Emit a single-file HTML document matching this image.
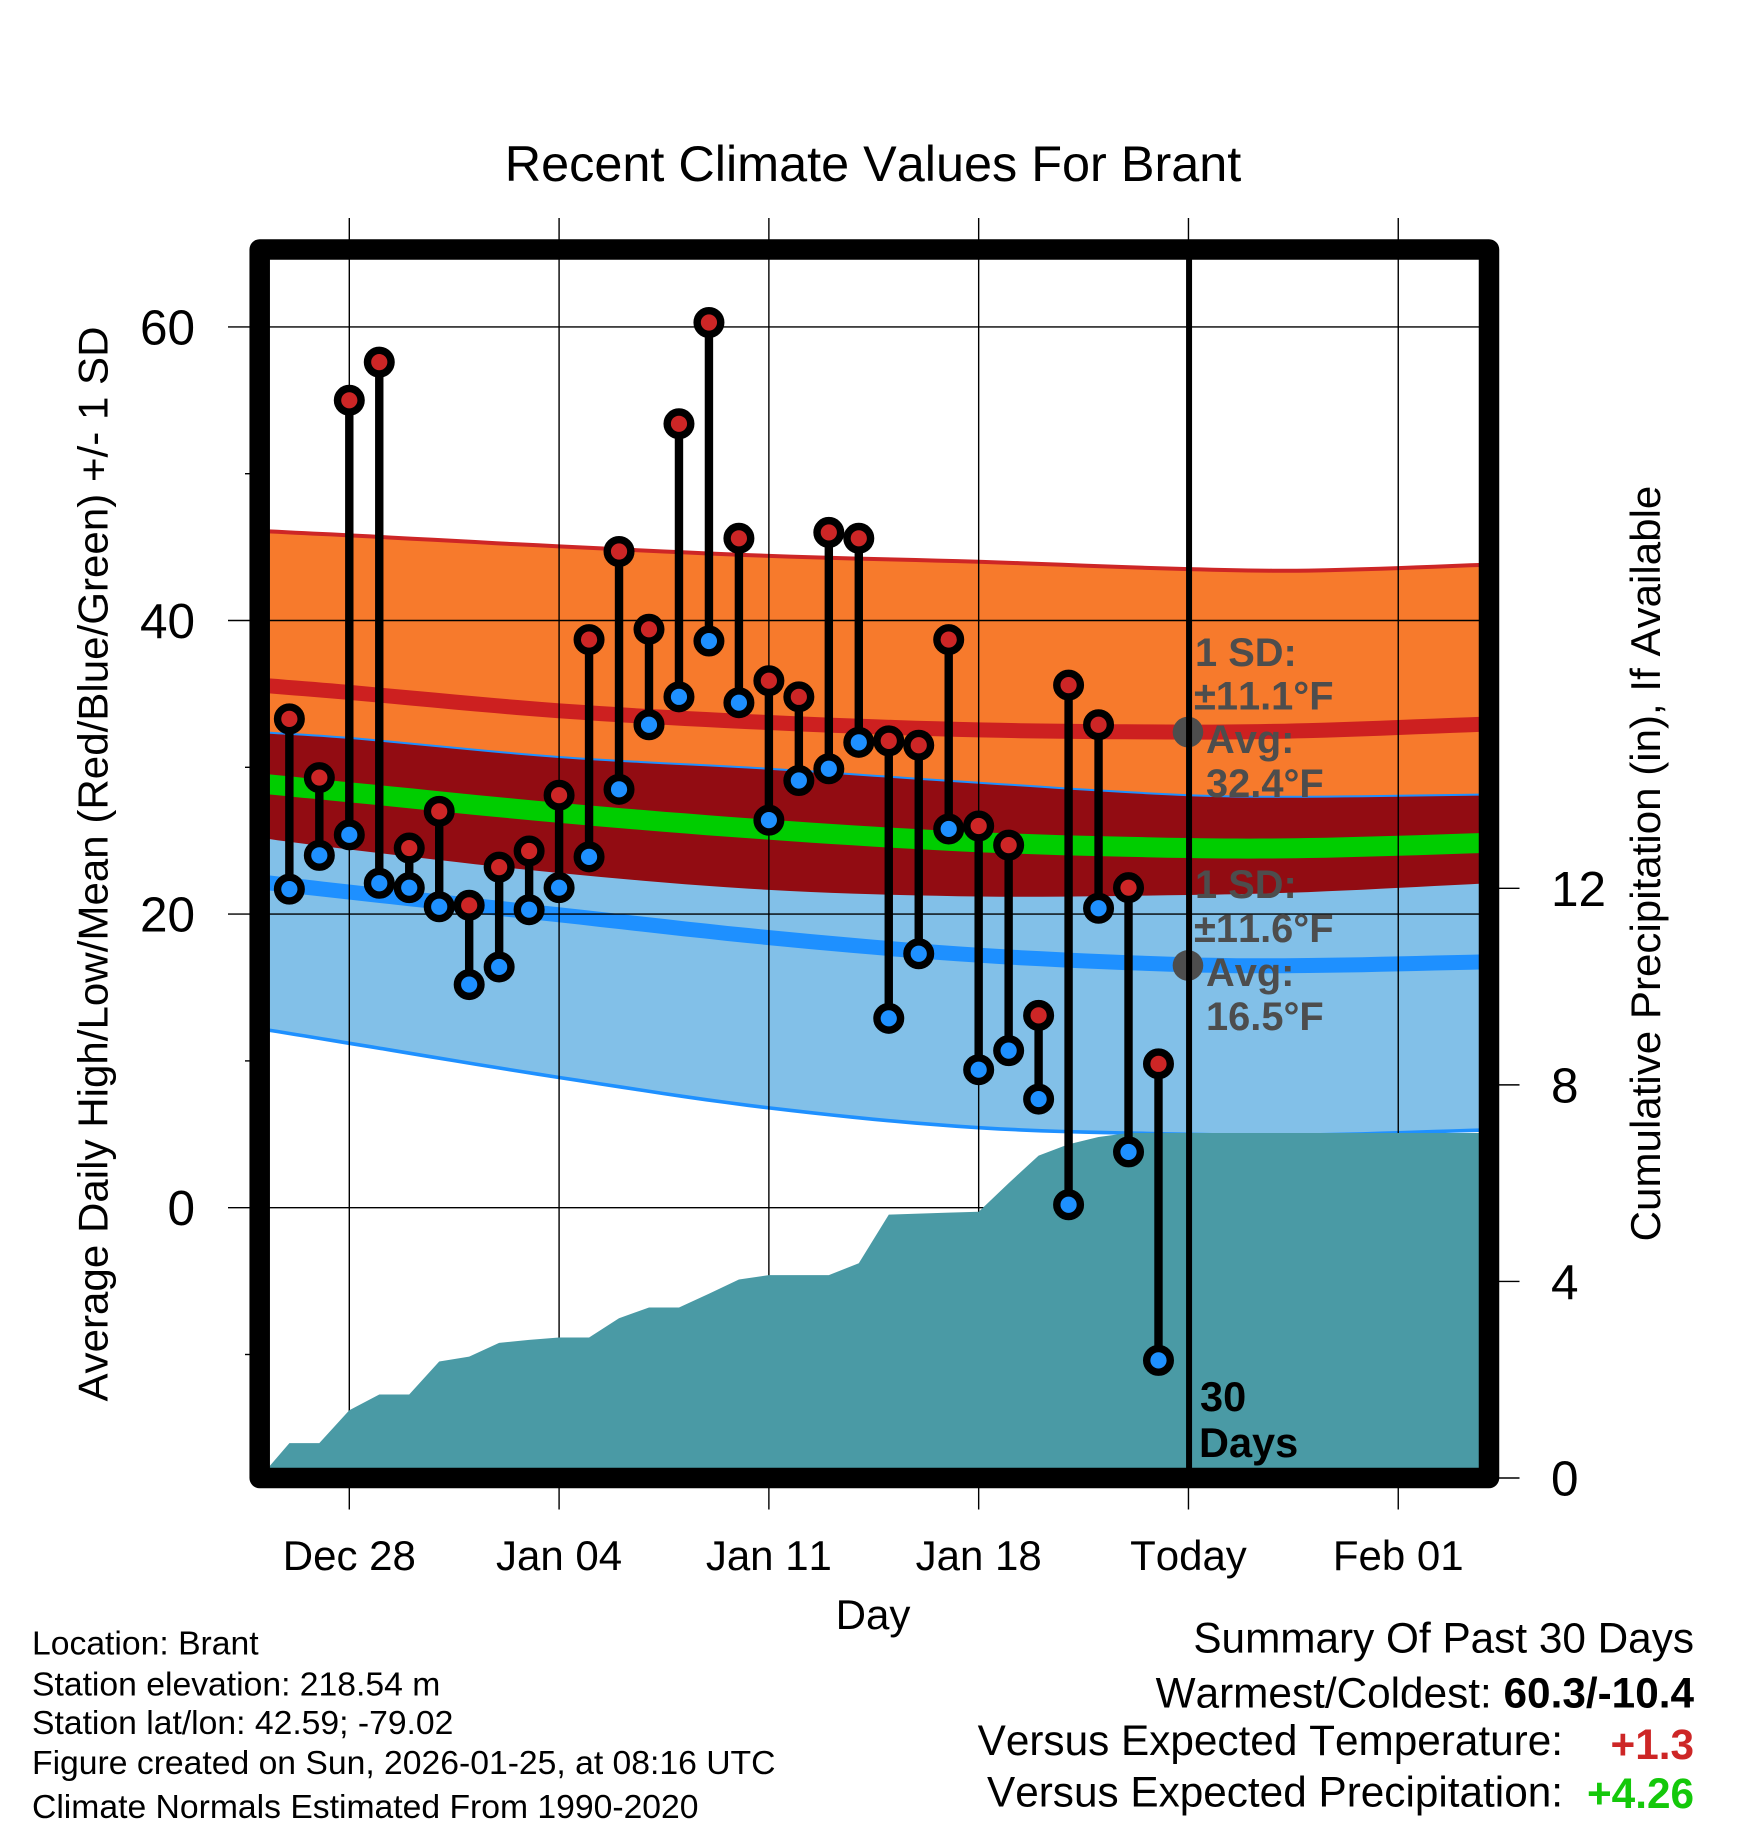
<!DOCTYPE html>
<html lang="en">
<head>
<meta charset="utf-8">
<title>Recent Climate Values For Brant</title>
<style>
html,body{margin:0;padding:0;background:#fff;}
svg{display:block;}
text{font-family:"Liberation Sans",Arial,sans-serif;fill:#000;font-kerning:none;}
.tick{font-size:49.5px;}
.xtick{font-size:42px;text-anchor:middle;}
.axt{font-size:42.1px;text-anchor:middle;}
.info{font-size:33.7px;}
.sum{font-size:42.3px;text-anchor:end;}
.ann{font-size:39.8px;font-weight:bold;fill:#4d4d4d;}
.days{font-size:41.5px;font-weight:bold;}
</style>
</head>
<body>
<svg id="chart" xmlns="http://www.w3.org/2000/svg" width="1748" height="1828" viewBox="0 0 1748 1828">
  <rect x="0" y="0" width="1748" height="1828" fill="#fff"/>
  <g id="bands"></g>
  <g id="grid"></g>
  <g id="precip"></g>
  <g id="today"></g>
  <g id="marks"></g>
  <rect x="259.7" y="249.5" width="1229.3" height="1228.5" fill="none" stroke="#000" stroke-width="20.5" stroke-linejoin="round"/>
  <g id="ticklabels"></g>

  <text x="873" y="181" font-size="50.4" text-anchor="middle">Recent Climate Values For Brant</text>
  <text class="axt" transform="translate(107.6 864) rotate(-90)">Average Daily High/Low/Mean (Red/Blue/Green) +/- 1 SD</text>
  <text class="axt" transform="translate(1660 863.5) rotate(-90)">Cumulative Precipitation (in), If Available</text>
  <text class="axt" x="873" y="1629">Day</text>

  <g>
    <text class="ann" x="1195" y="666">1 SD:</text>
    <text class="ann" x="1194" y="709.5">±11.1°F</text>
    <text class="ann" x="1206" y="753">Avg:</text>
    <text class="ann" x="1206" y="797">32.4°F</text>
  </g>
  <g>
    <text class="ann" x="1195" y="898">1 SD:</text>
    <text class="ann" x="1194" y="942">±11.6°F</text>
    <text class="ann" x="1206" y="986">Avg:</text>
    <text class="ann" x="1206" y="1030">16.5°F</text>
  </g>
  <text class="days" x="1200" y="1411">30</text>
  <text class="days" x="1199" y="1457">Days</text>

  <g>
    <text class="info" x="32" y="1654.5">Location: Brant</text>
    <text class="info" x="32" y="1695.5">Station elevation: 218.54 m</text>
    <text class="info" x="32" y="1734">Station lat/lon: 42.59; -79.02</text>
    <text class="info" x="32" y="1774">Figure created on Sun, 2026-01-25, at 08:16 UTC</text>
    <text class="info" x="32" y="1818">Climate Normals Estimated From 1990-2020</text>
  </g>
  <g>
    <text class="sum" x="1694" y="1652.5">Summary Of Past 30 Days</text>
    <text class="sum" x="1694" y="1707.5">Warmest/Coldest: <tspan font-weight="bold">60.3/-10.4</tspan></text>
    <text class="sum" x="1563" y="1755">Versus Expected Temperature:</text>
    <text class="sum" x="1694" y="1759" font-weight="bold" style="fill:#cd2626">+1.3</text>
    <text class="sum" x="1563" y="1806.5">Versus Expected Precipitation:</text>
    <text class="sum" x="1694" y="1808" font-weight="bold" style="fill:#14c80a">+4.26</text>
  </g>
</svg>
<script>
// Observed data: day offset from Dec 28
const days = [-2,-1,0,1,2,3,4,5,6,7,8,9,10,11,12,13,14,15,16,17,18,19,20,21,22,23,24,25,26,27];
const highs = [33.3,29.3,55.0,57.6,24.5,27.0,20.6,23.2,24.3,28.1,38.7,44.7,39.4,53.4,60.3,45.6,35.9,34.8,46.0,45.6,31.8,31.5,38.7,26.0,24.7,13.1,35.6,32.9,21.8,9.8];
const lows = [21.7,24.0,25.4,22.1,21.8,20.5,15.2,16.4,20.3,21.8,23.9,28.5,32.9,34.8,38.6,34.4,26.4,29.1,29.9,31.7,12.9,17.3,25.8,9.4,10.7,7.4,0.2,20.4,3.8,-10.4];

// Cumulative precipitation (in)
const precipDays = [-3,-2,-1,0,1,2,3,4,5,6,7,8,9,10,11,12,13,14,15,16,17,18,19,20,21,22,23,24,25,26,27,28,38];
const precipValues = [0,0.71,0.71,1.38,1.70,1.70,2.37,2.47,2.75,2.81,2.86,2.86,3.25,3.47,3.47,3.75,4.04,4.13,4.13,4.13,4.37,5.36,5.38,5.40,5.42,6.00,6.56,6.79,6.94,7.02,7.02,7.02,7.02];

// Climate normals
const normalDays = [-3,0,7,14,21,28,32,38];
const highUpper = [46.1,45.8,45.05,44.4,44.0,43.5,43.4,43.8];
const highMean = [35.6,35.1,33.85,33.05,32.55,32.4,32.5,32.95];
const highLower = [25.2,24.4,22.8,21.65,21.2,21.3,21.5,22.1];
const lowUpper = [32.4,32.0,30.7,29.9,28.95,28.1,28.0,28.15];
const lowMean = [22.2,21.5,19.95,18.4,17.2,16.55,16.5,16.75];
const lowLower = [12.2,11.2,8.87,6.8,5.45,5.0,4.95,5.3];
const midMean = [28.9,28.3,26.9,25.75,24.9,24.5,24.5,24.85];

// Ticks
const tempTicks = [60,40,20,0];
const tempMinorTicks = [50,30,10,-10];
const precipTicks = [0,4,8,12];
const dateTicks = [0,7,14,21,28,35];
const dateLabels = ['Dec 28','Jan 04','Jan 11','Jan 18','Today','Feb 01'];
const todayDay = 28;
const todayNormals = [32.4,16.5];

const NS = 'http://www.w3.org/2000/svg';
function xAt(d){return 349.3 + 29.97*d;}
function yAt(t){return 1207.7 - 14.68*t;}
function yPrecip(p){return 1478 - 49.14*p;}
function mk(tag,parent,attrs){
  const el=document.createElementNS(NS,tag);
  for(const k in attrs){el.setAttribute(k,attrs[k]);}
  parent.appendChild(el);
  return el;
}
// Smooth curve through the normal values (cubic Hermite in day space)
function linePts(xs,ys){
  const n=xs.length,slope=[],out=[];
  for(let i=0;i<n;i++){
    if(i===0){slope.push((ys[1]-ys[0])/(xs[1]-xs[0]));}
    else if(i===n-1){slope.push((ys[n-1]-ys[n-2])/(xs[n-1]-xs[n-2]));}
    else{slope.push((ys[i+1]-ys[i-1])/(xs[i+1]-xs[i-1]));}
  }
  for(let i=0;i<n-1;i++){
    const h=xs[i+1]-xs[i];
    for(let s=0;s<10;s++){
      const t=s/10,t2=t*t,t3=t2*t;
      const v=(2*t3-3*t2+1)*ys[i]+(t3-2*t2+t)*h*slope[i]+(-2*t3+3*t2)*ys[i+1]+(t3-t2)*h*slope[i+1];
      out.push(xAt(xs[i]+t*h).toFixed(1)+','+yAt(v).toFixed(1));
    }
  }
  out.push(xAt(xs[n-1]).toFixed(1)+','+yAt(ys[n-1]).toFixed(1));
  return out;
}
function bandPts(xs,top,bot){return linePts(xs,top).concat(linePts(xs,bot).reverse()).join(' ');}

const gBands=document.getElementById('bands');
let el;
el=mk('polygon',gBands,{points:bandPts(normalDays,highUpper,highLower),fill:'#f77a2c'});


el=mk('polygon',gBands,{points:bandPts(normalDays,lowUpper,lowLower),fill:'#82c0e8'});


el=mk('polygon',gBands,{points:bandPts(normalDays,lowUpper,highLower),fill:'#920c12'});


el=mk('polyline',gBands,{points:linePts(normalDays,highUpper).join(' '),fill:'none',stroke:'#cd2626','stroke-width':4});


el=mk('polyline',gBands,{points:linePts(normalDays,highMean).join(' '),fill:'none',stroke:'#cd2020','stroke-width':15});


el=mk('polyline',gBands,{points:linePts(normalDays,lowUpper).join(' '),fill:'none',stroke:'#1e90ff','stroke-width':2});


el=mk('polyline',gBands,{points:linePts(normalDays,midMean).join(' '),fill:'none',stroke:'#00cd00','stroke-width':20});


el=mk('polyline',gBands,{points:linePts(normalDays,lowMean).join(' '),fill:'none',stroke:'#1e90ff','stroke-width':15});


el=mk('polyline',gBands,{points:linePts(normalDays,lowLower).join(' '),fill:'none',stroke:'#1e90ff','stroke-width':3.6});



const gGrid=document.getElementById('grid');
tempTicks.forEach(t=>{
  const g=mk('line',gGrid,{x1:228,x2:1479,y1:yAt(t),y2:yAt(t),stroke:'#000','stroke-width':1.4});
  
  
});
tempMinorTicks.forEach(t=>{
  const g=mk('line',gGrid,{x1:245,x2:252,y1:yAt(t),y2:yAt(t),stroke:'#000','stroke-width':1.4});
  
  
});
dateTicks.forEach(d=>{
  const g=mk('line',gGrid,{x1:xAt(d),x2:xAt(d),y1:218,y2:1509.5,stroke:'#000','stroke-width':1.4});
  
  
});
precipTicks.forEach(p=>{
  const g=mk('line',gGrid,{x1:1498,x2:1519.5,y1:yPrecip(p),y2:yPrecip(p),stroke:'#000','stroke-width':1.4});
  
  
});

const gPrecip=document.getElementById('precip');
const precipPts=precipDays.map((d,i)=>xAt(d).toFixed(1)+','+yPrecip(precipValues[i]).toFixed(1));
precipPts.push(xAt(precipDays[precipDays.length-1]).toFixed(1)+','+yPrecip(0));
precipPts.push(xAt(precipDays[0]).toFixed(1)+','+yPrecip(0));
el=mk('polygon',gPrecip,{points:precipPts.join(' '),fill:'#4a9aa5'});



const gToday=document.getElementById('today');
todayNormals.forEach(t=>{
  const c=mk('circle',gToday,{cx:xAt(todayDay)-0.5,cy:yAt(t),r:15.3,fill:'#4d4d4d'});
  
  
});
el=mk('line',gToday,{x1:xAt(todayDay)+0.6,x2:xAt(todayDay)+0.6,y1:250,y2:1478,stroke:'#000','stroke-width':6});



const gMarks=document.getElementById('marks');
days.forEach((d,i)=>{
  const x=xAt(d);
  const stem=mk('line',gMarks,{x1:x,x2:x,y1:yAt(highs[i]),y2:yAt(lows[i]),stroke:'#000','stroke-width':8.4});
  
  
});
days.forEach((d,i)=>{
  const x=xAt(d);
  const lo=mk('circle',gMarks,{cx:x,cy:yAt(lows[i]),r:11.8,fill:'#1e90ff',stroke:'#000','stroke-width':7.4});
  
  
  const hi=mk('circle',gMarks,{cx:x,cy:yAt(highs[i]),r:11.8,fill:'#cd2626',stroke:'#000','stroke-width':7.4});
  
  
});

const gLabels=document.getElementById('ticklabels');
tempTicks.forEach(t=>{
  const l=mk('text',gLabels,{x:195,y:yAt(t)+17.5,'text-anchor':'end',class:'tick'});
  l.textContent=String(t);
  
  
});
precipTicks.forEach(p=>{
  const l=mk('text',gLabels,{x:1551,y:yPrecip(p)+17.5,class:'tick'});
  l.textContent=String(p);
  
  
});
dateTicks.forEach((d,i)=>{
  const l=mk('text',gLabels,{x:xAt(d),y:1570,class:'xtick'});
  l.textContent=dateLabels[i];
  
  
});
</script>
</body>
</html>
